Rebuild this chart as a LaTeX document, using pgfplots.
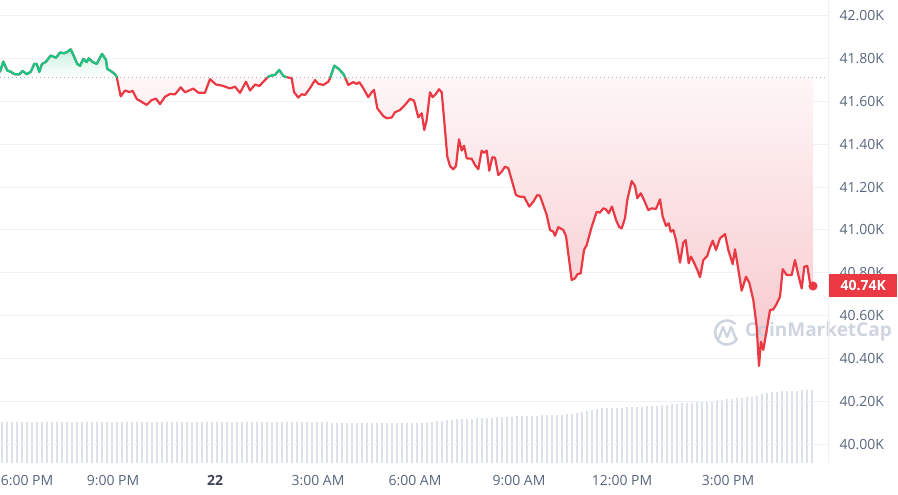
\documentclass[border=0pt]{standalone}
\usepackage{pgfplots}
\pgfplotsset{compat=1.18}
\usepackage{pgfplotstable}
\usepackage{fontspec}
\setmainfont{Open Sans}
\definecolor{cmcred}{HTML}{EA3943}
\definecolor{cmcgreen}{HTML}{16C784}
\definecolor{ticktext}{HTML}{58667E}
\definecolor{daytext}{HTML}{3C4352}
\definecolor{gridc}{HTML}{EFF2F5}
\definecolor{volc}{HTML}{DDE1EA}
\definecolor{wm}{HTML}{C5CCDA}
\definecolor{refc}{HTML}{A6B0C3}
\definecolor{redtop}{HTML}{FEF6F7}
\definecolor{redbot}{HTML}{F7C6CA}
\definecolor{greentop}{HTML}{C6F0DE}
% vertical shading: path bbox maps to 25bp..75bp; reference price at 70.63bp
\pgfdeclareverticalshading{pricefill}{100bp}{color(0bp)=(redbot); color(25bp)=(redbot); color(70.5bp)=(redtop); color(70.7bp)=(white); color(75bp)=(greentop); color(100bp)=(greentop)}

\pgfplotsset{priceax/.style={at={(0,0)}, anchor=south west, scale only axis,
  width=828pt, height=463pt, xmin=0, xmax=828, ymin=39.914, ymax=42.072}}

% x = time position (chart px, 34.1 per hour, 6 PM at 11), p = price in thousands USD
\pgfplotstableread{
x p
0 41.738
3.3 41.785
7.3 41.743
10.7 41.738
12.7 41.731
15 41.726
19.3 41.726
22.7 41.741
26.7 41.726
30.7 41.737
34.3 41.774
36.7 41.774
39.3 41.737
42 41.774
45.7 41.783
50.7 41.813
56 41.803
60 41.827
64 41.824
66.7 41.828
70.7 41.842
73.3 41.816
77.3 41.774
80 41.765
83.3 41.797
86.7 41.783
88.7 41.800
92.7 41.783
96.7 41.774
102 41.821
106 41.793
107.3 41.751
111.7 41.738
115 41.726
116.8 41.713
118.3 41.676
120.7 41.623
125 41.650
129.3 41.643
132.7 41.648
136.7 41.611
141 41.599
146.7 41.583
151.7 41.606
156 41.612
160 41.587
165 41.621
170 41.634
175 41.632
180.7 41.665
185 41.642
193.3 41.659
198.3 41.640
205 41.640
210 41.703
216 41.678
222 41.673
230 41.660
235 41.668
240 41.639
246 41.691
250 41.650
255 41.678
259.3 41.671
265 41.699
267.9 41.713
270 41.718
275 41.723
279.3 41.746
283.3 41.718
286 41.713
291.7 41.707
294 41.643
298.3 41.617
301.7 41.633
305 41.629
310 41.661
315 41.699
318.3 41.681
323.3 41.676
328.3 41.691
330 41.707
330.4 41.713
334.3 41.766
339.3 41.749
344 41.723
344.9 41.713
348.3 41.676
353.3 41.689
356.7 41.681
359.3 41.689
363.3 41.661
368.3 41.619
371.7 41.642
374 41.653
377.3 41.567
383.3 41.531
386.7 41.521
391.7 41.524
395 41.549
400 41.559
405 41.583
410 41.611
414 41.603
418.3 41.525
421.7 41.544
424.3 41.466
426.7 41.513
430 41.642
432.7 41.619
435.7 41.633
439 41.656
441.7 41.642
444 41.521
447.3 41.342
450 41.298
453.3 41.283
456 41.298
459 41.423
461.7 41.370
464 41.393
466.7 41.334
471.7 41.332
475 41.303
478.3 41.283
481.7 41.370
484 41.360
486.7 41.370
489.3 41.276
492.3 41.339
495 41.337
498.3 41.256
501.7 41.272
505 41.295
508.3 41.288
511.7 41.233
516 41.163
520 41.155
524 41.155
529.3 41.109
533.3 41.132
537.3 41.163
540 41.159
545 41.093
546.7 41.070
550 41.000
553.3 40.992
555 40.973
558.3 41.013
563.3 41.000
566 40.972
571.7 40.767
575 40.775
577.7 40.795
580.7 40.798
584 40.907
586.7 40.930
591.7 41.015
596.7 41.085
600 41.081
603.3 41.101
606 41.096
608.7 41.078
612 41.109
616 41.047
619.3 41.013
621.7 41.008
625 41.055
627.3 41.140
631.7 41.228
635 41.205
637.3 41.148
640.7 41.171
644 41.140
648.3 41.093
651.7 41.101
656 41.098
660 41.143
662.7 41.062
666 41.019
668.7 41.031
670.7 40.992
673.3 41.000
676 40.953
680 40.848
683.3 40.941
685.7 40.953
688.7 40.845
691 40.876
694 40.848
697.3 40.814
700 40.780
703.3 40.860
707.3 40.879
709.3 40.910
712.7 40.950
716 40.907
720 40.961
725 40.981
728.3 40.907
732.7 40.841
735 40.910
738.3 40.817
741.7 40.717
746 40.782
749.3 40.754
753.3 40.674
756.7 40.549
759 40.366
761 40.479
763.3 40.441
766.7 40.534
770 40.627
773.3 40.630
776 40.650
780 40.689
782.7 40.817
786.7 40.790
791.7 40.790
795 40.860
798.3 40.790
801.7 40.728
804.3 40.829
807.3 40.832
810 40.752
813 40.739
}\pricedata

\begin{document}
\begin{tikzpicture}[x=1pt,y=1pt]
\useasboundingbox (0,-32) rectangle (898,463);

% volume bars
\begin{axis}[at={(0,0)}, anchor=south west, scale only axis,
  width=828pt, height=463pt, xmin=0, xmax=828, ymin=0, ymax=463, hide axis]
\addplot[ycomb, volc, line width=1.5pt, mark=none] coordinates {
(2,41)(7,41)(12,41)(17,41)(22,41)(27,41)(32,41)(37,41)(42,41)(47,41)
(52,41)(57,41)(62,41)(67,41)(72,41)(77,41)(82,41)(87,41)(92,41)(97,41)
(102,41)(107,41)(112,41)(117,41)(122,41)(127,41)(132,41)(137,41)(142,41)(147,41)
(152,41)(157,41)(162,41)(167,41)(172,41)(177,41)(182,41)(187,41)(192,41)(197,41)
(202,41)(207,41)(212,41)(217,41)(222,41)(227,41)(232,41)(237,41)(242,41)(247,41)
(252,41)(257,41)(262,41)(267,41)(272,41)(277,41)
(282,40.5)(287,40.5)(292,40.5)(297,40.5)(302,40.5)(307,40.5)(312,40.5)(317,40.5)(322,40.5)(327,40.5)
(332,40)(337,40)(342,40)(347,40)(352,40)(357,40)
(362,39.5)(367,39.5)(372,39.5)(377,39.5)(382,39.5)(387,39.5)(392,39.5)(397,39.5)(402,39.5)(407,39.5)(412,39.5)(417,39.5)(422,39.5)
(427,40)(432,41)(437,41.5)(442,42)(447,42.5)(452,43)(457,43.5)
(462,43.5)(467,44)(472,44)(477,44.5)(482,44.5)(487,45)(492,45)(497,45.5)(502,45.5)(507,46)
(512,46)(517,46.5)(522,46.5)(527,47)(532,47)(537,47)(542,47.5)(547,47.5)(552,47.5)(557,48)
(562,48)(567,48.5)(572,49)(577,50)(582,51)(587,52)(592,53)(597,54)(602,54.5)(607,55)(612,55)(617,55)(622,55)
(627,55.5)(632,55.5)(637,56)(642,56)(647,56.5)(652,57)(657,57)(662,57.5)(667,58)(672,58.5)(677,59)(682,59.5)(687,60)
(692,60)(697,60.5)(702,61)(707,61.5)(712,62)(717,62.5)(722,63)(727,63.5)(732,64)(737,64.5)(742,65)(747,65.5)
(752,66)(757,67)(762,68.5)(767,69.5)(772,70.5)
(777,71)(782,71.5)(787,71.5)(792,72)(797,72)(802,72.5)(807,72.5)(812,73)
};
\end{axis}

% price chart: grid, ticks, area, opening-price line
\begin{axis}[priceax,
  axis line style={draw=none},
  major tick length=0pt,
  ytick={40,40.2,40.4,40.6,40.8,41,41.2,41.4,41.6,41.8,42},
  yticklabel pos=right,
  yticklabel={\pgfmathprintnumber[fixed,fixed zerofill,precision=2,assume math mode=true]{\tick}K},
  y tick label style={anchor=west, xshift=8pt, text=ticktext, font=\fontsize{14}{16}\selectfont},
  ymajorgrids, major grid style={gridc, line width=1pt},
  xtick={27,113,215,318,415,519,622,728},
  xticklabels={6:00 PM,9:00 PM,{\bfseries\color{daytext}22},3:00 AM,6:00 AM,9:00 AM,12:00 PM,3:00 PM},
  x tick label style={anchor=base, yshift=-23pt, text=ticktext, font=\fontsize{14}{16}\selectfont},
]
\addplot[draw=none, shading=pricefill] table[x=x, y=p] {\pricedata} -- (axis cs:813,41.713) -- (axis cs:0,41.713) -- cycle;
\addplot[refc, line width=1pt, dash pattern=on 1pt off 3pt] coordinates {(0,41.713) (828,41.713)};
\end{axis}

% watermark
\begin{scope}[opacity=0.85]
\draw[wm, line width=2.6pt] (735.5,139) arc[start angle=45, end angle=330, radius=12];
\draw[wm, line width=2.4pt, line join=round, line cap=round] (719,125) -- (723,136) -- (727,126) -- (731,136) -- (736,124);
\node[wm, anchor=west, inner sep=0pt, font=\fontsize{19}{22}\selectfont\bfseries] at (745,131) {CoinMarketCap};
\end{scope}

% price line on top
\begin{axis}[priceax, hide axis]
\addplot[cmcred, line width=2.2pt, line join=round, line cap=round] table[x=x, y=p] {\pricedata};
\addplot[cmcgreen, line width=2.2pt, line join=round, line cap=round, restrict x to domain=0:116.81] table[x=x, y=p] {\pricedata};
\addplot[cmcgreen, line width=2.2pt, line join=round, line cap=round, restrict x to domain=267.89:286.01] table[x=x, y=p] {\pricedata};
\addplot[cmcgreen, line width=2.2pt, line join=round, line cap=round, restrict x to domain=330.39:344.91] table[x=x, y=p] {\pricedata};
\addplot[only marks, mark=*, mark size=4.3pt, cmcred] coordinates {(813,40.739)};
\coordinate (lastp) at (axis cs:828,40.739);
\end{axis}

\draw[gridc, line width=1pt] (828.5,0) -- (828.5,463);
\node[fill=cmcred, text=white, anchor=west, minimum width=68pt, minimum height=23pt, inner sep=0pt,
  font=\fontsize{14}{16}\selectfont\bfseries] at ([xshift=1pt]lastp) {40.74K};
\end{tikzpicture}
\end{document}
